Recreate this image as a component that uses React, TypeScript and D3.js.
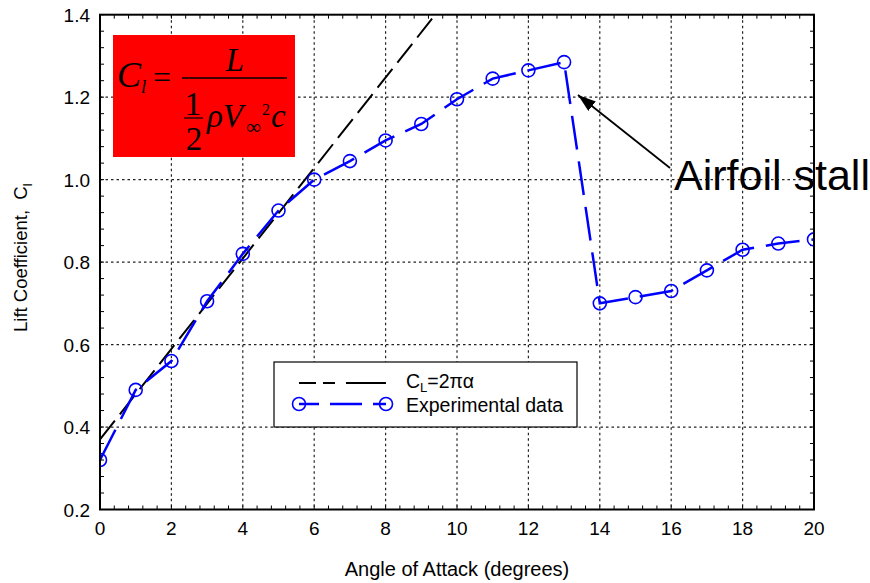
import React from "react";
import * as d3 from "d3";

const alpha = [0, 1, 2, 3, 4, 5, 6, 7, 8, 9, 10, 11, 12, 13, 14, 15, 16, 17, 18, 19, 20];
const clExp = [0.32, 0.49, 0.56, 0.705, 0.82, 0.925, 1.0, 1.045, 1.095, 1.135, 1.195, 1.245, 1.265, 1.285, 0.70, 0.715, 0.73, 0.78, 0.83, 0.845, 0.855];
const theoryAlpha = [0, 10];
const theoryCl = [0.37, 1.467];
const xTicks = [0, 2, 4, 6, 8, 10, 12, 14, 16, 18, 20];
const yTicks = [0.2, 0.4, 0.6, 0.8, 1.0, 1.2, 1.4];

const W = 870, H = 583;
const L = 100, R = 814, T = 14.7, B = 509.5;
const SANS = "'Liberation Sans', Arial, sans-serif";
const SERIF = "'Liberation Serif', 'Times New Roman', serif";

export default function App() {
  const x = d3.scaleLinear().domain([0, 20]).range([L, R]);
  const y = d3.scaleLinear().domain([0.2, 1.4]).range([B, T]);
  const xMinor = d3.range(0, 20.001, 0.4);
  const yMinor = d3.range(0.2, 1.4001, 0.04);
  const expLine = d3.line<number>().x((d, i) => x(alpha[i])).y((d) => y(d))(clExp) || "";
  const thLine = d3.line<number>().x((d, i) => x(theoryAlpha[i])).y((d) => y(d))(theoryCl) || "";
  const grid = "#222";
  return (
    <svg width={W} height={H} style={{ position: "absolute", left: 0, top: 0, background: "#fff" }}>
      <defs>
        <clipPath id="plot">
          <rect x={L} y={T} width={R - L} height={B - T} />
        </clipPath>
        <marker id="arrow" viewBox="0 0 18 12" refX="18" refY="6" markerWidth="18" markerHeight="12" orient="auto" markerUnits="userSpaceOnUse">
          <path d="M0,0 L18,6 L0,12 z" fill="#000" />
        </marker>
      </defs>
      <rect x={0} y={0} width={W} height={H} fill="#fff" />
      {xTicks.slice(1, -1).map((t) => (
        <line key={"gx" + t} x1={x(t)} x2={x(t)} y1={T} y2={B} stroke={grid} strokeWidth={1.2} strokeDasharray="2.5,3" />
      ))}
      {yTicks.slice(1, -1).map((t) => (
        <line key={"gy" + t} x1={L} x2={R} y1={y(t)} y2={y(t)} stroke={grid} strokeWidth={1.2} strokeDasharray="2.5,3" />
      ))}
      {xMinor.map((t, i) => (
        <g key={"mx" + i}>
          <line x1={x(t)} x2={x(t)} y1={B} y2={B - 4} stroke="#000" strokeWidth={1} />
          <line x1={x(t)} x2={x(t)} y1={T} y2={T + 4} stroke="#000" strokeWidth={1} />
        </g>
      ))}
      {yMinor.map((t, i) => (
        <g key={"my" + i}>
          <line x1={L} x2={L + 4} y1={y(t)} y2={y(t)} stroke="#000" strokeWidth={1} />
          <line x1={R} x2={R - 4} y1={y(t)} y2={y(t)} stroke="#000" strokeWidth={1} />
        </g>
      ))}
      <rect x={113} y={35} width={182} height={122} fill="#ff0000" />
      <g fontFamily={SERIF} fill="#000">
        <text x={117} y={87} fontSize={36} fontStyle="italic">C</text>
        <text x={141} y={93} fontSize={19} fontStyle="italic">l</text>
        <text x={153} y={88} fontSize={32}>=</text>
        <line x1={182} x2={287} y1={78} y2={78} stroke="#000" strokeWidth={1.4} />
        <text x={235} y={71} fontSize={33} fontStyle="italic" textAnchor="middle">L</text>
        <text x={193} y={115} fontSize={33} textAnchor="middle">1</text>
        <line x1={184} x2={203} y1={118} y2={118} stroke="#000" strokeWidth={1.2} />
        <text x={194} y={150} fontSize={33} textAnchor="middle">2</text>
        <text x={207} y={127} fontSize={33} fontStyle="italic">ρV</text>
        <text x={246} y={134} fontSize={21}>∞</text>
        <text x={262} y={115} fontSize={16}>2</text>
        <text x={271} y={127} fontSize={33} fontStyle="italic">c</text>
      </g>
      <g clipPath="url(#plot)">
        <path d={thLine} fill="none" stroke="#000" strokeWidth={2} strokeDasharray="24,8" />
        <path d={expLine} fill="none" stroke="#0000ff" strokeWidth={2.5} strokeDasharray="34,12" />
        {clExp.map((v, i) => (
          <circle key={"c" + i} cx={x(alpha[i])} cy={y(v)} r={6.5} fill="none" stroke="#0000ff" strokeWidth={1.6} />
        ))}
      </g>
      <rect x={L} y={T} width={R - L} height={B - T} fill="none" stroke="#000" strokeWidth={2} />
      <g fontFamily={SANS} fontSize={19} fill="#000">
        {xTicks.map((t) => (
          <text key={"xl" + t} x={x(t)} y={535} textAnchor="middle">{t}</text>
        ))}
        {yTicks.map((t) => (
          <text key={"yl" + t} x={90} y={y(t) + 7} textAnchor="end">{t.toFixed(1)}</text>
        ))}
      </g>
      <text x={457} y={576} fontFamily={SANS} fontSize={20} textAnchor="middle">Angle of Attack (degrees)</text>
      <text transform="translate(27,332) rotate(-90)" fontFamily={SANS} fontSize={18.5} style={{ whiteSpace: "pre" }}>
        {"Lift Coefficient,  C"}<tspan fontSize={13} dy={5}>l</tspan>
      </text>
      <rect x={274} y={362} width={303} height={65} fill="#fff" stroke="#000" strokeWidth={1.2} />
      <line x1={299} x2={386} y1={383} y2={383} stroke="#000" strokeWidth={2} strokeDasharray="17,7,12,11,40" />
      <line x1={299} x2={386} y1={404} y2={404} stroke="#0000ff" strokeWidth={2.5} strokeDasharray="20,11,32,11,40" />
      <circle cx={299} cy={404} r={6.5} fill="none" stroke="#0000ff" strokeWidth={1.6} />
      <circle cx={386} cy={404} r={6.5} fill="none" stroke="#0000ff" strokeWidth={1.6} />
      <g fontFamily={SANS} fontSize={19.5} fill="#000">
        <text x={406} y={388}>C<tspan fontSize={13} dy={4}>L</tspan><tspan dy={-4}>=2πα</tspan></text>
        <text x={406} y={412}>Experimental data</text>
      </g>
      <line x1={670} x2={578} y1={168} y2={95} stroke="#000" strokeWidth={1.8} markerEnd="url(#arrow)" />
      <text x={674} y={190} fontFamily={SANS} fontSize={43} fill="#000">Airfoil stall</text>
    </svg>
  );
}
